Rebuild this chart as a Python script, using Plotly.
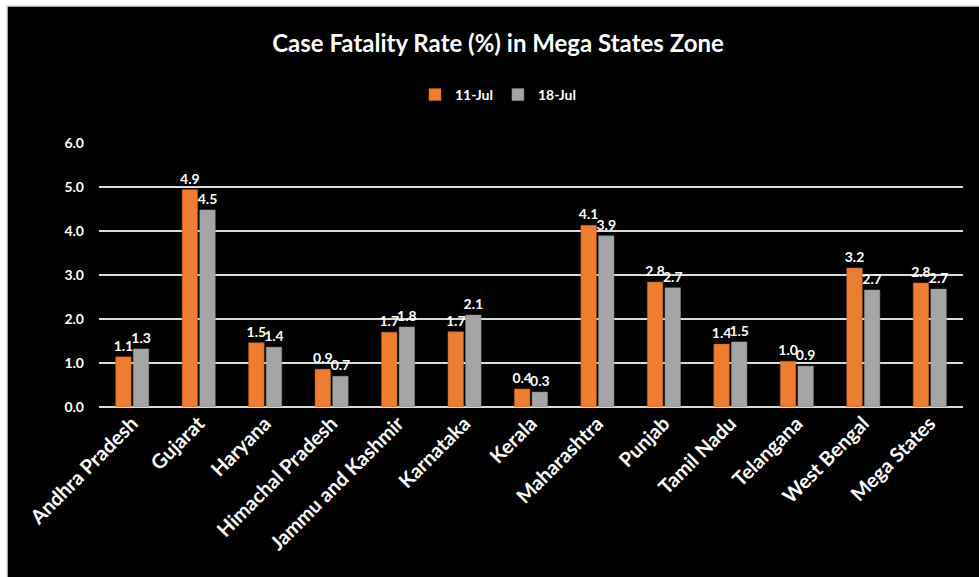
import plotly.graph_objects as go

states = ["Andhra Pradesh", "Gujarat", "Haryana", "Himachal Pradesh", "Jammu and Kashmir",
          "Karnataka", "Kerala", "Maharashtra", "Punjab", "Tamil Nadu", "Telangana",
          "West Bengal", "Mega States"]
cfr_11jul = [1.14, 4.94, 1.46, 0.86, 1.70, 1.71, 0.41, 4.13, 2.84, 1.43, 1.04, 3.16, 2.82]
cfr_18jul = [1.32, 4.48, 1.36, 0.70, 1.82, 2.09, 0.34, 3.89, 2.71, 1.48, 0.93, 2.66, 2.68]
y_ticks = [0, 1, 2, 3, 4, 5, 6]

FONT = "Lato, 'Open Sans', sans-serif"
L, R, T, B = 99, 16, 143, 170
PW, PH = 979 - L - R, 577 - T - B

fig = go.Figure()
fig.add_trace(go.Bar(
    x=states, y=cfr_11jul, name="11-Jul",
    marker=dict(color="#ED7D31", line=dict(color="#c0601f", width=0.5)),
    text=[f"{v:.1f}" for v in cfr_11jul], textposition="outside", constraintext="none",
    textfont=dict(color="white", size=14, family=FONT, weight="bold"),
    cliponaxis=False,
))
fig.add_trace(go.Bar(
    x=states, y=cfr_18jul, name="18-Jul",
    marker=dict(color="#A5A5A5", line=dict(color="#8a8a8a", width=0.5)),
    text=[f"{v:.1f}" for v in cfr_18jul], textposition="outside", constraintext="none",
    textfont=dict(color="white", size=14, family=FONT, weight="bold"),
    cliponaxis=False,
))

# black chart area with a thin light frame, like the Excel export
fig.add_shape(type="rect", xref="paper", yref="paper",
              x0=(7 - L) / PW, x1=(995 - L) / PW,
              y0=(577 - B - 595) / PH, y1=(577 - B - 6) / PH,
              fillcolor="black", line=dict(color="#d9d9d9", width=1.5), layer="below")

fig.update_layout(
    width=979, height=577,
    margin=dict(l=L, r=R, t=T, b=B, autoexpand=False),
    paper_bgcolor="white", plot_bgcolor="black",
    barmode="group", bargap=0.47, bargroupgap=0.12,
    title=dict(text="<b>Case Fatality Rate (%) in Mega States Zone</b>",
               x=498 / 979, xref="container", xanchor="center",
               y=1 - 44 / 577, yref="container", yanchor="middle",
               font=dict(color="white", size=24, family=FONT)),
    legend=dict(orientation="h", x=498 / 979, xref="container", xanchor="center",
                y=1 - 95 / 577, yref="container", yanchor="middle",
                font=dict(color="white", size=14, family=FONT, weight="bold"),
                bgcolor="rgba(0,0,0,0)", itemwidth=30, traceorder="normal"),
    font=dict(family=FONT, color="white"),
    xaxis=dict(tickangle=-45, showgrid=False, showline=False, ticks="",
               tickfont=dict(color="white", size=20, family=FONT, weight="bold")),
    yaxis=dict(range=[0, 6], tickvals=y_ticks, tickformat=".1f",
               showgrid=True, gridcolor="#d9d9d9", gridwidth=2,
               zeroline=True, zerolinecolor="#d9d9d9", zerolinewidth=2,
               showline=False, ticks="", ticklabelstandoff=14,
               tickfont=dict(color="white", size=14, family=FONT, weight="bold")),
)

fig.write_html("out.html", config={"displayModeBar": False},
               post_script="document.body.style.margin='0px';")
